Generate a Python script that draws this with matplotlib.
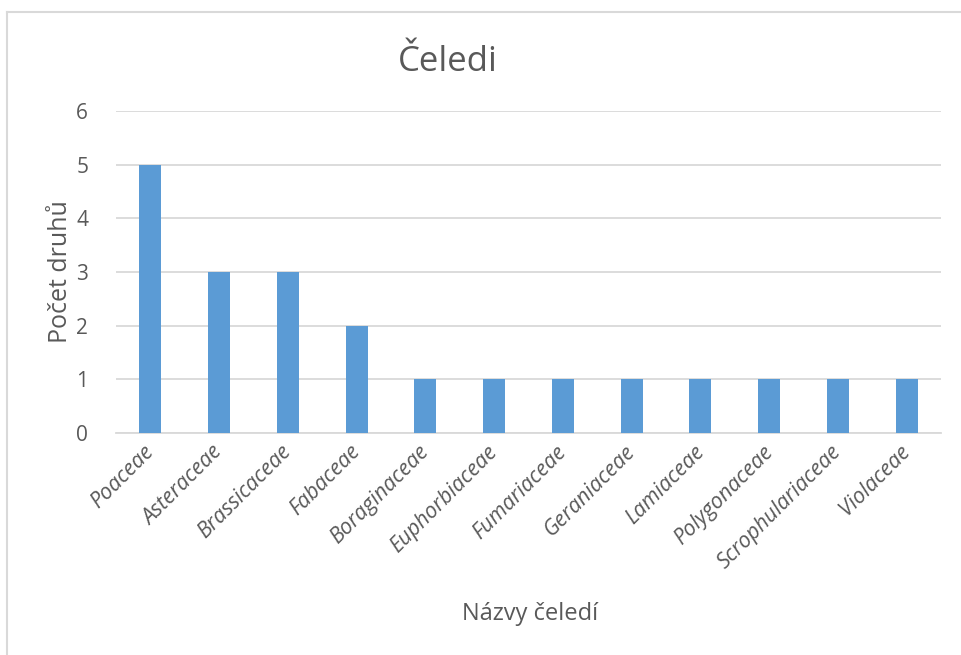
import matplotlib
matplotlib.use('Agg')
import matplotlib.pyplot as plt
import matplotlib.transforms as mtransforms
from matplotlib.lines import Line2D

# počty druhů v jednotlivých čeledích
celedi = ['Poaceae', 'Asteraceae', 'Brassicaceae', 'Fabaceae', 'Boraginaceae',
          'Euphorbiaceae', 'Fumariaceae', 'Geraniaceae', 'Lamiaceae',
          'Polygonaceae', 'Scrophulariaceae', 'Violaceae']
pocty = [5, 3, 3, 2, 1, 1, 1, 1, 1, 1, 1, 1]
y_ticks = [0, 1, 2, 3, 4, 5, 6]

text_color = '#595959'
grid_color = '#D9D9D9'
bar_color = '#5B9BD5'

plt.rcParams['font.family'] = ['Open Sans', 'DejaVu Sans']

fig = plt.figure(figsize=(9.62, 6.55), dpi=100)
ax = fig.add_axes([116 / 962, 1 - 433 / 655, 825 / 962, 322 / 655])

x = range(len(celedi))
ax.bar(x, pocty, width=0.32, color=bar_color, zorder=3)

ax.set_xlim(-0.5, len(celedi) - 0.5)
ax.set_ylim(0, 6)
ax.set_yticks(y_ticks)
ax.set_yticklabels([str(v) for v in y_ticks], fontsize=15, color=text_color)
ax.set_xticks(list(x))
ax.set_xticklabels(celedi, rotation=45, ha='right', va='top', rotation_mode='anchor',
                   fontsize=15.5, style='italic', color=text_color)
ax.tick_params(axis='both', length=0)
ax.tick_params(axis='y', pad=20)
ax.tick_params(axis='x', pad=6)

# posun popisků osy x trochu doleva
shift = mtransforms.ScaledTranslation(-5 / 72, 0, fig.dpi_scale_trans)
for lbl in ax.get_xticklabels():
    lbl.set_transform(lbl.get_transform() + shift)

ax.grid(axis='y', color=grid_color, linewidth=1.3, zorder=0)
for side in ['top', 'right', 'left']:
    ax.spines[side].set_visible(False)
ax.spines['bottom'].set_color(grid_color)
ax.spines['bottom'].set_linewidth(1.3)

ax.set_ylabel('Počet druhů', fontsize=18, color=text_color, labelpad=2)
fig.text(530 / 962, 1 - 614 / 655, 'Názvy čeledí', fontsize=17, color=text_color,
         ha='center', va='center')
fig.text(448 / 962, 1 - 62 / 655, 'Čeledi', fontsize=25, color=text_color,
         ha='center', va='center')

# rámeček grafu (horní a levá hrana)
fig.add_artist(Line2D([7 / 962, 1], [1 - 12 / 655, 1 - 12 / 655],
                      transform=fig.transFigure, color=grid_color, linewidth=1.5))
fig.add_artist(Line2D([7 / 962, 7 / 962], [0, 1 - 12 / 655],
                      transform=fig.transFigure, color=grid_color, linewidth=1.5))

fig.savefig('out.png', dpi=100)
